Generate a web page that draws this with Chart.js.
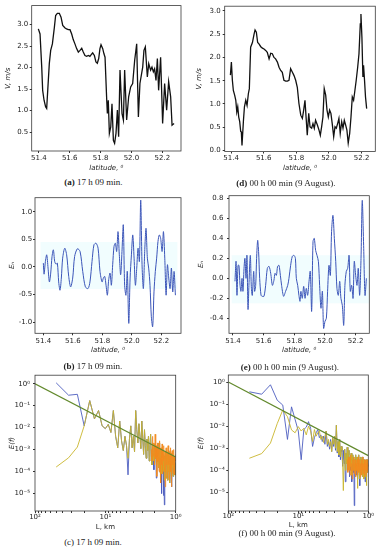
<!DOCTYPE html>
<html><head><meta charset="utf-8">
<script src="https://cdn.jsdelivr.net/npm/chart.js@4.4.1/dist/chart.umd.min.js"></script>
<style>
html,body{margin:0;padding:0;background:#fff}
body{width:379px;height:550px;position:relative;overflow:hidden}
canvas{position:absolute}
.cap{position:absolute;font-family:"Liberation Serif","DejaVu Serif",serif;font-size:9px;color:#222;white-space:nowrap;transform:translate(-50%,-50%)}
</style></head><body>
<canvas id="pa"></canvas><canvas id="pd"></canvas>
<canvas id="pb"></canvas><canvas id="pe"></canvas>
<canvas id="pc"></canvas><canvas id="pf"></canvas>
<div class="cap" style="left:93.5px;top:181.7px"><b>(a)</b> 17 h 09 min.</div>
<div class="cap" style="left:286px;top:183px"><b>(d)</b> 00 h 00 min (9 August).</div>
<div class="cap" style="left:93px;top:366px"><b>(b)</b> 17 h 09 min.</div>
<div class="cap" style="left:290px;top:367px"><b>(e)</b> 00 h 00 min (9 August).</div>
<div class="cap" style="left:93px;top:541.7px">(c) 17 h 09 min.</div>
<div class="cap" style="left:287px;top:532.7px">(f) 00 h 00 min (9 August).</div>
<script>
// ---------- tick labels ----------
const latTicks = [51.4, 51.6, 51.8, 52.0, 52.2];
const velTicksA = [0.5, 1.0, 1.5, 2.0, 2.5, 3.0];
const velTicksD = [0.0, 0.5, 1.0, 1.5, 2.0, 2.5, 3.0];
const enTicksB = [-1.0, -0.5, 0.0, 0.5, 1.0];
const enTicksE = [-0.4, -0.2, 0.0, 0.2, 0.4, 0.6, 0.8];
const lengthTicks = [1,2,3,4,5,6,7,8,9,10,20,30,40,50,60,70,80,90,100];
const spectrumTicks = [1e-5, 1e-4, 1e-3, 1e-2, 1e-1, 1];

// ---------- (a) V, 17 h 09 min ----------
const latA = [51.397,51.408,51.419,51.425,51.434,51.444,51.451,51.468,51.477,51.488,
51.501,51.509,51.520,51.533,51.544,51.555,51.570,51.580,51.591,51.602,
51.613,51.623,51.634,51.645,51.656,51.667,51.678,51.688,51.699,51.710,
51.721,51.731,51.742,51.749,51.760,51.770,51.779,51.788,51.796,51.803,
51.814,51.822,51.829,51.840,51.844,51.850,51.857,51.866,51.874,51.883,
51.891,51.900,51.909,51.917,51.926,51.939,51.948,51.956,51.969,51.982,
51.995,52.008,52.021,52.034,52.045,52.055,52.073,52.081,52.090,52.103,
52.112,52.124,52.133,52.142,52.150,52.159,52.168,52.176,52.189,52.202,
52.215,52.228,52.241,52.254,52.263,52.276];
const velA = [2.90,2.78,2.01,1.47,1.24,1.09,1.05,2.09,2.40,2.55,
2.94,3.21,3.26,3.26,3.17,2.98,2.92,2.90,2.88,2.88,
2.78,2.65,2.55,2.44,2.36,2.40,2.45,2.36,2.28,2.26,
2.28,2.26,2.31,2.34,2.28,2.13,2.10,2.21,2.44,2.53,
2.44,2.32,2.24,1.24,0.93,1.24,0.47,0.62,1.16,0.31,
0.24,0.47,1.01,0.39,1.94,0.93,0.78,1.94,0.78,1.32,
1.55,1.63,2.17,2.55,0.85,1.63,2.01,2.40,2.48,1.78,
2.09,1.94,2.01,1.90,1.97,1.70,2.21,1.47,2.24,0.70,
1.63,1.01,1.67,1.32,0.66,0.70];

// ---------- (d) V, 00 h 00 min ----------
const latD = [51.396,51.402,51.408,51.414,51.422,51.429,51.435,51.441,51.447,51.453,
51.459,51.463,51.467,51.476,51.482,51.490,51.498,51.506,51.512,51.520,
51.531,51.541,51.547,51.555,51.563,51.571,51.582,51.592,51.602,51.612,
51.622,51.633,51.643,51.653,51.663,51.673,51.684,51.694,51.704,51.714,
51.724,51.735,51.745,51.755,51.765,51.776,51.786,51.796,51.806,51.816,
51.827,51.837,51.845,51.853,51.861,51.867,51.876,51.884,51.894,51.902,
51.910,51.918,51.929,51.939,51.947,51.955,51.963,51.971,51.980,51.988,
51.996,52.004,52.012,52.020,52.029,52.037,52.045,52.053,52.061,52.069,
52.078,52.086,52.094,52.102,52.110,52.118,52.127,52.135,52.143,52.151,
52.159,52.167,52.176,52.184,52.192,52.196,52.202,52.208,52.212,52.218,
52.224,52.231];
const velD = [1.62,1.90,1.51,1.29,1.19,1.08,0.83,0.94,0.72,0.62,
0.41,0.40,0.11,0.65,0.94,1.08,0.97,1.22,1.33,2.22,
2.32,2.50,2.59,2.54,2.32,2.29,2.23,2.20,2.18,2.15,
2.11,1.97,2.09,2.08,2.00,1.97,1.90,1.79,1.72,1.68,
1.51,1.49,1.49,1.51,1.76,1.68,1.61,1.51,1.36,1.01,
0.76,0.69,0.87,1.08,0.65,0.33,0.80,0.51,0.48,0.58,
0.48,0.65,0.55,0.44,0.33,0.51,0.72,1.33,1.19,0.87,
0.72,0.87,0.80,0.58,0.30,0.51,0.48,0.58,0.69,0.37,
0.62,0.48,0.65,0.55,0.44,0.16,0.37,0.72,1.15,1.08,
1.29,1.51,1.79,2.08,2.72,2.93,2.43,1.58,1.83,1.51,
1.15,0.90];

// ---------- (b) En, 17 h 09 min ----------
const latB = [51.400,51.405,51.414,51.423,51.432,51.441,51.450,51.459,51.468,51.477,
51.486,51.495,51.504,51.513,51.522,51.531,51.545,51.558,51.572,51.585,
51.599,51.612,51.631,51.649,51.667,51.685,51.703,51.716,51.730,51.743,
51.757,51.771,51.784,51.798,51.807,51.816,51.825,51.834,51.843,51.852,
51.861,51.870,51.879,51.888,51.897,51.906,51.915,51.924,51.933,51.942,
51.951,51.960,51.969,51.979,51.988,51.997,52.006,52.015,52.024,52.033,
52.042,52.051,52.060,52.069,52.078,52.087,52.096,52.105,52.114,52.123,
52.132,52.141,52.150,52.159,52.168,52.177,52.186,52.195,52.205,52.214,
52.223,52.232,52.241,52.250,52.259,52.268,52.277,52.286,52.295];
const enB = [0.07,-0.13,0.10,0.22,-0.02,-0.27,-0.11,0.19,0.31,0.10,
0.05,0.07,-0.27,-0.42,-0.20,0.16,0.34,0.22,-0.17,-0.36,
-0.20,0.19,0.33,0.28,-0.08,-0.36,-0.39,-0.27,0.10,0.40,
0.43,0.34,-0.08,-0.27,-0.20,-0.17,-0.33,-0.51,-0.23,-0.11,
-0.33,0.04,0.37,0.43,0.28,0.64,0.22,-0.14,0.28,0.76,
-0.33,-0.51,-0.08,-1.02,-0.20,0.22,0.58,0.16,-0.33,-0.02,
0.34,0.10,1.21,0.04,-0.39,0.28,0.70,0.16,-0.02,-0.33,
-0.90,-1.08,-0.45,-0.08,0.16,0.46,0.58,0.52,0.28,0.64,
0.16,-0.51,0.04,-0.20,-0.39,-0.02,-0.45,-0.08,-0.51];
const bandLatB = [51.38, 52.31];
const bandUpB = [0.45, 0.45];
const bandLowB = [-0.40, -0.40];

// ---------- (e) En, 00 h 00 min ----------
const latE = [51.413,51.420,51.426,51.433,51.439,51.446,51.452,51.459,51.465,51.472,
51.478,51.485,51.491,51.498,51.504,51.513,51.520,51.526,51.535,51.541,
51.548,51.554,51.561,51.567,51.574,51.583,51.591,51.602,51.613,51.624,
51.635,51.646,51.657,51.667,51.674,51.683,51.691,51.700,51.709,51.717,
51.730,51.743,51.757,51.765,51.776,51.787,51.798,51.807,51.813,51.822,
51.830,51.837,51.843,51.852,51.861,51.870,51.878,51.887,51.896,51.904,
51.913,51.922,51.930,51.939,51.948,51.957,51.965,51.974,51.983,51.991,
52.000,52.009,52.017,52.026,52.035,52.043,52.052,52.061,52.070,52.078,
52.087,52.096,52.104,52.113,52.122,52.130,52.139,52.148,52.157,52.165,
52.174,52.183,52.191,52.200,52.209,52.217,52.226,52.235,52.243,52.252,
52.261,52.270];
const enE = [-0.03,0.17,-0.17,0.13,0.13,-0.07,-0.13,0.00,-0.13,0.10,
0.20,0.00,0.23,-0.31,-0.07,0.23,-0.10,-0.17,0.07,-0.13,
-0.07,0.20,0.38,0.27,0.00,-0.17,-0.18,-0.18,-0.07,0.10,
0.12,0.05,-0.07,-0.02,0.05,0.03,0.12,0.13,0.03,-0.07,
-0.18,-0.13,-0.07,0.00,0.13,0.22,0.23,0.20,0.00,-0.07,
-0.17,-0.23,-0.13,-0.20,-0.08,-0.20,-0.10,-0.17,-0.03,0.07,
-0.33,0.37,0.40,0.28,0.23,0.17,-0.07,-0.30,-0.13,-0.50,
-0.43,-0.40,-0.13,0.13,0.03,0.47,0.63,0.40,0.17,-0.10,
-0.17,-0.03,-0.20,-0.27,-0.47,-0.07,0.07,0.10,0.23,-0.13,
-0.07,-0.20,0.17,0.03,-0.07,0.10,-0.17,0.20,0.78,0.33,
-0.17,0.00];
const bandLatE = [51.39, 52.29];
const bandUpE = [0.23, 0.23];
const bandLowE = [-0.25, -0.25];

// ---------- spectra: harmonic number k, L = 100/k km ----------
const harmonicK = [2,3,4,5,6,7,8,9,10,11,12,13,14,15,16,17,18,19,20,21,22,23,24,25,26,27,28,29,30,31,32,33,34,35,36,37,38,39,40,41,42,43,44,45,46,47,48,49,50,51,52,53,54,55,56,57,58,59,60,61,62,63,64,65,66,67,68,69,70,71,72,73,74,75,76,77,78,79,80,81,82,83,84,85,86,87,88,89,90,91,92,93,94,95,96,97,98,99,100];
const trackKm = 100;

const specBlueC = [1.1,0.3,0.33,0.012,0.17,0.025,0.06,0.012,0.009,0.014,
0.006,0.06,0.004,0.0012,0.02,0.0025,0.0009,0.004,0.0015,0.00007,
0.003,0.012,0.0012,0.004,0.0008,0.06,0.008,0.002,0.015,0.004,
0.0011,0.02,0.003,0.0006,0.008,0.0015,0.0004,0.003,0.0009,0.004,
0.0003,0.0015,0.005,0.0006,0.0002,0.002,0.0007,0.00012,0.0018,0.0004,
0.001,0.00005,0.0012,0.0003,0.0008,0.00015,0.002,0.0004,0.00009,0.0011,
0.0003,0.00001,0.0009,0.0002,0.0006,0.000008,0.0004,0.000003,0.0005,0.0001,
0.0008,0.00005,0.0004,0.0002,0.0007,0.00004,0.0003,0.0009,0.0001,0.0005,
0.00003,0.0004,0.0002,0.0006,0.00008,0.0003,0.00002,0.0005,0.00015,0.0004,
0.00006,0.0003,0.0002,0.0005,0.0001,0.0003,0.00007,0.0002,0.00025];
const specYellowC = [0.00016,0.00042,0.0013,0.012,0.17,0.025,0.06,0.012,0.009,0.014,
0.006,0.06,0.004,0.0012,0.02,0.0025,0.0009,0.004,0.0015,0.0004,
0.003,0.012,0.0012,0.004,0.0008,0.06,0.008,0.002,0.015,0.004,
0.0011,0.02,0.003,0.0006,0.008,0.0015,0.0004,0.003,0.0009,0.004,
0.0003,0.0015,0.005,0.0006,0.0002,0.002,0.0007,0.0003,0.0018,0.0004,
0.001,0.0002,0.0012,0.0003,0.0008,0.00015,0.002,0.0004,0.00009,0.0011,
0.0003,0.00008,0.0009,0.0002,0.0006,0.0001,0.0004,0.00004,0.0005,0.0001,
0.0008,0.00005,0.0004,0.0002,0.0007,0.00004,0.0003,0.0009,0.0001,0.0005,
0.00003,0.0004,0.0002,0.0006,0.00008,0.0003,0.00006,0.0005,0.00015,0.0004,
0.00006,0.0003,0.0002,0.0005,0.0001,0.0003,0.00007,0.0002,0.00025];
const specOrangeC = [0.001,0.0003,0.004,0.0005,0.002,0.0002,0.005,0.0004,0.0015,0.00006,
0.002,0.0003,0.0012,0.0001,0.0025,0.0004,0.00003,0.0012,0.0002,0.0018,
0.00008,0.0009,0.0003,0.0015,0.0001,0.0008,0.00002,0.0006,0.0012,0.0002,
0.0009,0.00005,0.0007,0.0015,0.0002,0.0006,0.00004,0.0008,0.0003,0.0012,
0.0001,0.0007,0.00002,0.0005,0.0009,0.0002,0.0006,0.00008,0.0004,0.001,
0.0002,0.0005,0.00007,0.0004,0.0003,0.0006];

const specBlueF = [0.36,0.28,0.75,0.15,0.09,0.0025,0.075,0.02,0.006,0.0003,
0.007,0.009,0.016,0.008,0.0012,0.003,0.005,0.007,0.003,0.004,
0.002,0.0035,0.0015,0.006,0.0012,0.002,0.0009,0.0025,0.0007,0.003,
0.0012,0.0035,0.0008,0.011,0.0006,0.002,0.0004,0.0025,0.0003,0.0012,
0.0007,0.00015,0.0008,0.0002,0.0009,0.00003,0.0006,0.0002,0.0011,0.0001,
0.0005,0.0008,0.00005,0.0004,0.0001,0.0006,0.00003,0.0003,0.0005,0.00008,
0.0004,0.0000025,0.0003,0.0001,0.0005,0.00006,0.0002,0.0004,0.00004,0.0003,
0.0001,0.0005,0.00008,0.0003,0.00002,0.0002,0.0004,0.00007,0.0003,0.0001,
0.0004,0.00005,0.0002,0.0003,0.00004,0.0002,0.0001,0.0003,0.00003,0.0002,
0.0001,0.0003,0.00005,0.0002,0.00008,0.0003,0.0001,0.0002,0.00015];
const specYellowF = [0.00035,0.00057,0.0017,0.013,0.054,0.027,0.0067,0.005,0.0095,0.006,
0.008,0.004,0.01,0.006,0.002,0.007,0.0035,0.005,0.006,0.0025,
0.0035,0.0018,0.0035,0.006,0.0015,0.0025,0.0012,0.002,0.0007,0.003,
0.0015,0.0035,0.001,0.011,0.0007,0.002,0.0005,0.0025,0.0004,0.0012,
0.0008,0.0002,0.000012,0.0003,0.0009,0.0001,0.0006,0.0002,0.0011,0.0002,
0.0005,0.0008,0.0001,0.0004,0.00015,0.0006,0.00006,0.0003,0.0005,0.0001,
0.0004,0.0001,0.0003,0.0001,0.0005,0.0001,0.0002,0.0004,0.000015,0.0003,
0.0001,0.0005,0.00008,0.0003,0.00004,0.0002,0.0004,0.00007,0.0003,0.0001,
0.0004,0.00005,0.0002,0.0003,0.00004,0.0002,0.0001,0.0003,0.00005,0.0002,
0.0001,0.0003,0.00002,0.0002,0.00008,0.0003,0.0001,0.0002,0.00015];
const specOrangeF = [0.0003,0.00008,0.0004,0.0001,0.0003,0.00006,0.0005,0.0001,0.0002,0.00004,
0.0003,0.0001,0.0004,0.00007,0.0002,0.0003,0.00005,0.0002,0.0001,0.0003,
0.00006,0.0002,0.0004,0.00008,0.0002,0.0001,0.0003,0.00005,0.0002,0.0001,
0.0003,0.00006,0.0002,0.0001,0.0004,0.00007,0.0002,0.0001,0.0003,0.00005,
0.0002,0.0001,0.0003,0.00006,0.0002,0.0001,0.0003,0.00008,0.0002,0.0001,
0.0002];

// Kolmogorov-type fit line (end points)
const fitKm = [100, 1];
const fitE = [1, 0.00046];

// ---------- helpers ----------
const pts = (xs, ys) => ys.map((y, i) => ({x: xs[i], y}));
const kmOf = ks => ks.map(k => trackKm / k);
const tail = (arr, n) => arr.slice(arr.length - n);
const SUP = {'0':'⁰','1':'¹','2':'²','3':'³','4':'⁴','5':'⁵','6':'⁶','7':'⁷','8':'⁸','9':'⁹','-':'⁻'};
function powLabel(v){const p=Math.log10(v),r=Math.round(p);if(Math.abs(p-r)>1e-6)return '';return '10'+String(r).split('').map(c=>SUP[c]).join('');}
const fix1 = v => Number(v).toFixed(1);

const FRAME = {id:'frame', afterDatasetsDraw(ch){const a=ch.chartArea,c=ch.ctx;c.save();c.strokeStyle='#3a3a3a';c.lineWidth=0.8;c.strokeRect(a.left,a.top,a.right-a.left,a.bottom-a.top);c.restore();}};

function makePanel(s){
  const cv=document.getElementById(s.id), b=s.box, A=s.area;
  cv.width=b.w; cv.height=b.h; cv.style.left=b.left+'px'; cv.style.top=b.top+'px';
  const FS=7, LH=FS*1.2, TL=2;
  const axisBottom=s.xTitleY+FS/2;
  const tickFont={family:'DejaVu Sans',size:FS};
  new Chart(cv,{type:'line',data:{datasets:s.datasets},options:{
    responsive:false,animation:false,devicePixelRatio:1,
    layout:{padding:{left:0,top:A.T-b.top,right:b.left+b.w-A.R,bottom:b.top+b.h-axisBottom}},
    plugins:{legend:{display:false},tooltip:{enabled:false}},
    elements:{point:{radius:0}},
    scales:{
      x:{type:s.xType,min:s.xMin,max:s.xMax,reverse:!!s.xReverse,
        afterBuildTicks:sc=>{sc.ticks=s.xTicks.map(v=>({value:v}));},
        afterFit:sc=>{sc.height=axisBottom-A.B;},
        ticks:{autoSkip:false,maxRotation:0,minRotation:0,font:tickFont,color:'#222',padding:s.xLabelY-A.B-TL-LH/2,callback:s.xFmt},
        grid:{drawOnChartArea:false,drawTicks:true,tickLength:TL,color:'#333'},
        border:{display:false},
        title:{display:true,text:s.xTitle,font:{family:'DejaVu Sans',size:FS,style:s.xItalic?'italic':'normal',lineHeight:1},color:'#222',padding:0}},
      y:{type:s.yType,min:s.yMin,max:s.yMax,
        afterBuildTicks:sc=>{sc.ticks=s.yTicks.map(v=>({value:v}));},
        afterFit:sc=>{sc.width=A.L-b.left;},
        ticks:{autoSkip:false,font:tickFont,color:'#222',padding:s.yGap-TL,callback:s.yFmt},
        grid:{drawOnChartArea:false,drawTicks:true,tickLength:TL,color:'#333'},
        border:{display:false},
        title:{display:true,text:s.yTitle,font:{family:'DejaVu Sans',size:FS,style:'italic',lineHeight:1},color:'#222',padding:{top:s.yTitleX-b.left-FS/2,bottom:0}}}
    }
  },plugins:[FRAME]});
}

const blackLine = d => ({data:d,borderColor:'#111',borderWidth:1.3,tension:0,fill:false});
const blueWave = d => ({data:d,borderColor:'#3b55b8',borderWidth:1,tension:0.3,fill:false,order:0});
const band = (xs, up, lo) => [
  {data:pts(xs,up),borderWidth:0,borderColor:'rgba(0,0,0,0)',backgroundColor:'rgba(225,250,253,0.45)',fill:'+1',order:5},
  {data:pts(xs,lo),borderWidth:0,borderColor:'rgba(0,0,0,0)',fill:false,order:6}];
const specSets = (blue, yellow, orange) => [
  {data:pts(fitKm,fitE),borderColor:'#62892c',borderWidth:1.2,tension:0,fill:false,order:0},
  {data:pts(tail(kmOf(harmonicK),orange.length),orange),borderColor:'#f28a1e',borderWidth:0.8,tension:0,fill:false,order:1},
  {data:pts(kmOf(harmonicK),yellow),borderColor:'#c9b62c',borderWidth:0.9,tension:0,fill:false,order:2},
  {data:pts(kmOf(harmonicK),blue),borderColor:'#4d5ec0',borderWidth:0.9,tension:0,fill:false,order:3}];

makePanel({id:'pa',box:{left:0,top:0,w:189,h:176},area:{L:31.7,T:5,R:181,B:151},
  xType:'linear',xMin:51.354,xMax:52.321,xTicks:latTicks,xFmt:fix1,xLabelY:158.3,xTitleY:168,xTitle:'latitude, ⁰',xItalic:true,
  yType:'linear',yMin:0.06,yMax:3.44,yTicks:velTicksA,yFmt:fix1,yGap:3.4,yTitleX:8.3,yTitle:'V, m/s',
  datasets:[blackLine(pts(latA,velA))]});
makePanel({id:'pd',box:{left:189,top:0,w:190,h:176},area:{L:224.7,T:5,R:375.3,B:151.5},
  xType:'linear',xMin:51.361,xMax:52.284,xTicks:latTicks,xFmt:fix1,xLabelY:158,xTitleY:167.7,xTitle:'latitude, ⁰',xItalic:true,
  yType:'linear',yMin:-0.02,yMax:3.1,yTicks:velTicksD,yFmt:fix1,yGap:4,yTitleX:199,yTitle:'V, m/s',
  datasets:[blackLine(pts(latD,velD))]});
makePanel({id:'pb',box:{left:0,top:188,w:189,h:170},area:{L:35,T:197.7,R:181,B:333.3},
  xType:'linear',xMin:51.3435,xMax:52.333,xTicks:latTicks,xFmt:fix1,xLabelY:340.7,xTitleY:350,xTitle:'latitude, ⁰',xItalic:true,
  yType:'linear',yMin:-1.199,yMax:1.253,yTicks:enTicksB,yFmt:fix1,yGap:2.7,yTitleX:11.7,yTitle:'Eₙ',
  datasets:[blueWave(pts(latB,enB)),...band(bandLatB,bandUpB,bandLowB)]});
makePanel({id:'pe',box:{left:189,top:186,w:190,h:172},area:{L:229,T:195.7,R:369.3,B:333.3},
  xType:'linear',xMin:51.374,xMax:52.289,xTicks:latTicks,xFmt:fix1,xLabelY:340.7,xTitleY:350,xTitle:'latitude, ⁰',xItalic:true,
  yType:'linear',yMin:-0.55,yMax:0.827,yTicks:enTicksE,yFmt:fix1,yGap:5.5,yTitleX:201,yTitle:'Eₙ',
  datasets:[blueWave(pts(latE,enE)),...band(bandLatE,bandUpE,bandLowE)]});
makePanel({id:'pc',box:{left:0,top:368,w:189,h:166},area:{L:35,T:374,R:175.7,B:511},
  xType:'logarithmic',xMin:1,xMax:100,xReverse:true,xTicks:lengthTicks,xFmt:powLabel,xLabelY:516.7,xTitleY:526.7,xTitle:'L, km',xItalic:false,
  yType:'logarithmic',yMin:1.58e-6,yMax:2.45,yTicks:spectrumTicks,yFmt:powLabel,yGap:5,yTitleX:12,yTitle:'E(f)',
  datasets:specSets(specBlueC,specYellowC,specOrangeC)});
makePanel({id:'pf',box:{left:189,top:368,w:190,h:166},area:{L:228.3,T:375,R:368.3,B:511},
  xType:'logarithmic',xMin:1,xMax:100,xReverse:true,xTicks:lengthTicks,xFmt:powLabel,xLabelY:516,xTitleY:524.7,xTitle:'L, km',xItalic:false,
  yType:'logarithmic',yMin:1.42e-6,yMax:2.08,yTicks:spectrumTicks,yFmt:powLabel,yGap:3.5,yTitleX:201,yTitle:'E(f)',
  datasets:specSets(specBlueF,specYellowF,specOrangeF)});
</script>
</body></html>
